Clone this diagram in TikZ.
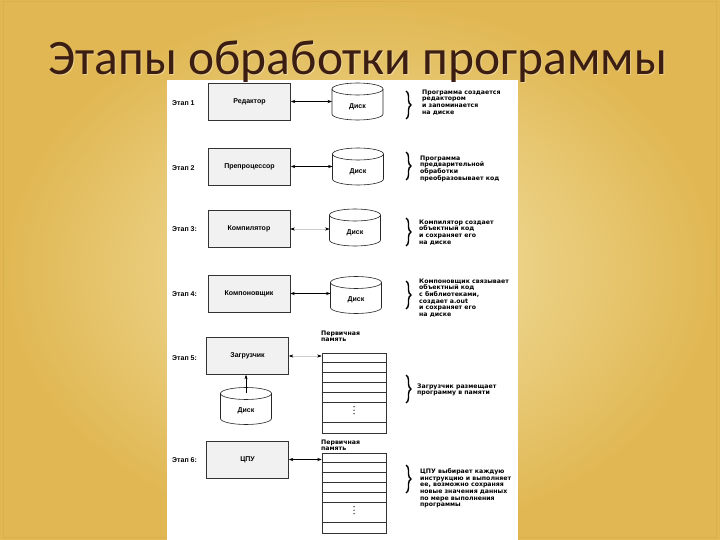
\documentclass[tikz,border=0pt]{standalone}
\usepackage{fontspec}
\setmainfont{Liberation Sans}
\newfontfamily\titlefont{Carlito}
\newfontfamily\notefont{DejaVu Sans}
\usetikzlibrary{arrows.meta,decorations.pathreplacing}
\definecolor{bgin}{HTML}{F4E6AE}
\definecolor{bgout}{HTML}{E0B752}
\definecolor{titlec}{HTML}{3B1D12}
\definecolor{boxfill}{HTML}{F1F1F1}
\newcommand\drawdisk[1]{%
  \path[draw=black!85, fill=white, line width=0.6pt]
    ([yshift=-6pt]#1.north west) -- ([yshift=6pt]#1.south west)
    arc[start angle=180, end angle=360, x radius=25.5pt, y radius=6pt]
    -- ([yshift=-6pt]#1.north east)
    arc[start angle=0, end angle=180, x radius=25.5pt, y radius=6pt] -- cycle;
  \draw[black!85, line width=0.6pt] ([yshift=-6pt]#1.north west)
    arc[start angle=180, end angle=360, x radius=25.5pt, y radius=6pt];
  \node[lbl] at ([yshift=-5pt]#1.center) {Диск};
}
\begin{document}
\begin{tikzpicture}[x=1pt,y=-1pt,
  txt/.style={font=\notefont\fontsize{6.2}{6.6}\selectfont\bfseries, inner sep=0pt, align=left},
  lbl/.style={font=\fontsize{7}{7}\selectfont\bfseries, inner sep=0pt},
  stagebox/.style={lbl, draw=black!80, fill=boxfill, line width=0.6pt, minimum width=82pt, minimum height=37pt},
  diskbox/.style={draw=none, inner sep=0pt, outer sep=0pt, minimum width=51pt, minimum height=37pt},
  mem/.style={draw=black!80, fill=white, line width=0.6pt, minimum width=64pt, minimum height=80pt, inner sep=0pt},
  stagelbl/.style={lbl, anchor=west},
  note/.style={txt, anchor=north west},
  link/.style={line width=0.5pt, {Stealth[length=4.5pt,width=3.2pt]}-{Stealth[length=4.5pt,width=3.2pt]}},
  faintlink/.style={line width=0.5pt, draw=black!20, {Stealth[length=4.5pt,width=3.2pt,color=black]}-{Stealth[length=4.5pt,width=3.2pt,color=black]}},
  bracestyle/.style={decorate, decoration={brace, amplitude=5pt}, line width=1.4pt}
]
\useasboundingbox (0,0) rectangle (720,540);
% background
\shade[inner color=bgin, outer color=bgout] (0,0) rectangle (720,540);
\draw[bgout!85!brown, line width=0.8pt] (3,1.5) rectangle (716,537.5);
% white panel
\fill[white] (167,80) rectangle (518,540);

% stage labels
\node[stagelbl] (s1) at (172,103) {Этап 1};
\node[stagelbl] (s2) at (172,168) {Этап 2};
\node[stagelbl] (s3) at (172,229) {Этап 3:};
\node[stagelbl] (s4) at (172,294) {Этап 4:};
\node[stagelbl] (s5) at (172,358) {Этап 5:};
\node[stagelbl] (s6) at (172,460) {Этап 6:};

% boxes
\node[stagebox] (b1) at (249.5,101.5) {Редактор};
\node[stagebox] (b2) at (249.5,166.5) {Препроцессор};
\node[stagebox] (b3) at (249,229) {Компилятор};
\node[stagebox] (b4) at (249,293.5) {Компоновщик};
\node[stagebox] (b5) at (247.5,356) {Загрузчик};
\node[stagebox] (b6) at (247.5,459.5) {ЦПУ};

% disks
\node[diskbox] (d1) at (357.5,101.5) {};
\node[diskbox] (d2) at (358,166.5) {};
\node[diskbox] (d3) at (355,227.5) {};
\node[diskbox] (d4) at (356,295) {};
\node[diskbox] (d5) at (246,406) {};
\drawdisk{d1}
\drawdisk{d2}
\drawdisk{d3}
\drawdisk{d4}
\drawdisk{d5}

% memory
\node[mem] (m5) at (354,393) {};
\node[mem] (m6) at (354,493) {};
\foreach \m in {m5,m6}{
  \foreach \d in {10,20,30,40,50,70}
    \draw[black!80, line width=0.5pt] (\m.north west) ++(0,\d) -- ++(64,0);
  \foreach \d in {54,57.5,61}
    \fill (\m.north) ++(0,\d) circle (0.7);
}
\node[note] (ml5) at (321,330.5) {Первичная\\память};
\node[note] (ml6) at (321,439.5) {Первичная\\память};

% connectors
\draw[link] (b1.east) -- (b1.east -| d1.west);
\draw[link] (b2.east) -- (b2.east -| d2.west);
\draw[faintlink] (b3.east) -- (b3.east -| d3.west);
\draw[link] (b4.east) -- (b4.east -| d4.west);
\draw[faintlink] (b5.east) -- (b5.east -| m5.west);
\draw[link] (b6.east) -- (b6.east -| m6.west);
\coordinate (d5top) at (246,393);
\draw[line width=0.5pt, -{Stealth[length=4.5pt,width=3.2pt]}] (d5top) -- (d5top |- b5.south);

% braces
\draw[bracestyle] (406,91) -- (406,119);
\draw[bracestyle] (406,152) -- (406,180);
\draw[bracestyle] (406,218) -- (406,246);
\draw[bracestyle] (406,281) -- (406,309);
\draw[bracestyle] (406,375) -- (406,403);
\draw[bracestyle] (406,465) -- (406,493);

% notes
\node[note] (n1) at (422,89.5) {Программа создается\\редактором\\и запоминается\\на диске};
\node[note] (n2) at (420,155.5) {Программа\\предварительной\\обработки\\преобразовывает код};
\node[note] (n3) at (419,219.5) {Компилятор создает\\объектный код\\и сохраняет его\\на диске};
\node[note] (n4) at (419,278.5) {Компоновщик связывает\\объектный код\\с библиотеками,\\создает a.out\\и сохраняет его\\на диске};
\node[note] (n5) at (417,383.5) {Загрузчик размещает\\программу в памяти};
\node[note] (n6) at (420,468.5) {ЦПУ выбирает каждую\\инструкцию и выполняет\\ее, возможно сохраняя\\новые значения данных\\по мере выполнения\\программы};

% title
\node[font=\titlefont\fontsize{49.5}{50}\selectfont, text=white, opacity=0.35, anchor=base] (tshadow) at (359,76) {Этапы обработки программы};
\node[font=\titlefont\fontsize{49.5}{50}\selectfont, text=titlec, anchor=base] (title) at (358,75) {Этапы обработки программы};
\end{tikzpicture}
\end{document}
